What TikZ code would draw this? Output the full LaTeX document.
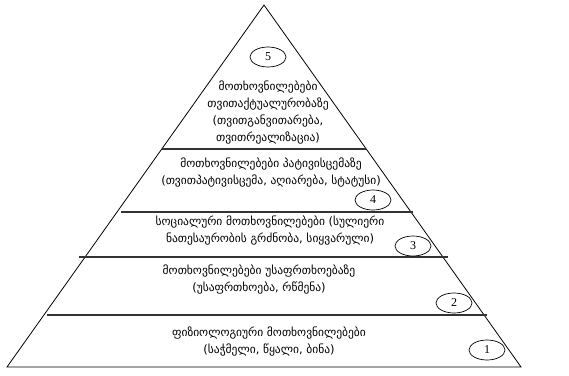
\documentclass[tikz,border=0pt]{standalone}
\usepackage{fontspec}
\usepackage{tikz}
\usetikzlibrary{shapes.geometric}
\newfontfamily\geofont{DejaVu Sans}
\newfontfamily\numfont{Liberation Serif}

\begin{document}
\begin{tikzpicture}[x=1pt, y=-1pt,
    edge/.style={draw=black, line width=0.8pt},
    level/.style={draw=black!80, line width=1.1pt},
    lbl/.style={align=center, inner sep=0pt,
                font=\geofont\fontsize{11.5}{17}\selectfont},
    num/.style={ellipse, draw=black, line width=0.7pt, minimum width=36pt,
                minimum height=20pt, inner sep=0pt,
                font=\numfont\fontsize{12}{12}\selectfont}]

    \useasboundingbox (0,0) rectangle (569,375);

    % pyramid outline
    \coordinate (top) at (264,5);
    \coordinate (bl)  at (7,367);
    \coordinate (br)  at (521,367);
    \draw[edge] (top) -- (bl) -- (br) -- cycle;

    % level borders
    \draw[level] (162,149) coordinate (l4a) -- (366,149) coordinate (l4b);
    \draw[level] (121,212) coordinate (l3a) -- (413,212) coordinate (l3b);
    \draw[level] (79,257)  coordinate (l2a) -- (448,257) coordinate (l2b);
    \draw[level] (47,315)  coordinate (l1a) -- (487,315) coordinate (l1b);

    % texts
    \node[lbl] (t5) at (268,113) {მოთხოვნილებები\\თვითაქტუალურობაზე\\(თვითგანვითარება,\\თვითრეალიზაცია)};
    \node[lbl] (t4) at (271,173) {მოთხოვნილებები პატივისცემაზე\\(თვითპატივისცემა, აღიარება, სტატუსი)};
    \node[lbl] (t3) at (270,231) {სოციალური მოთხოვნილებები (სულიერი\\ნათესაურობის გრძნობა, სიყვარული)};
    \node[lbl] (t2) at (259,280) {მოთხოვნილებები უსაფრთხოებაზე\\(უსაფრთხოება, რწმენა)};
    \node[lbl] (t1) at (269,342) {ფიზიოლოგიური მოთხოვნილებები\\(საჭმელი, წყალი, ბინა)};

    % level numbers
    \node[num] (n5) at (268,57)  {5};
    \node[num] (n4) at (373,200) {4};
    \node[num] (n3) at (413,246) {3};
    \node[num] (n2) at (454,303) {2};
    \node[num] (n1) at (487,350) {1};

\end{tikzpicture}
\end{document}
